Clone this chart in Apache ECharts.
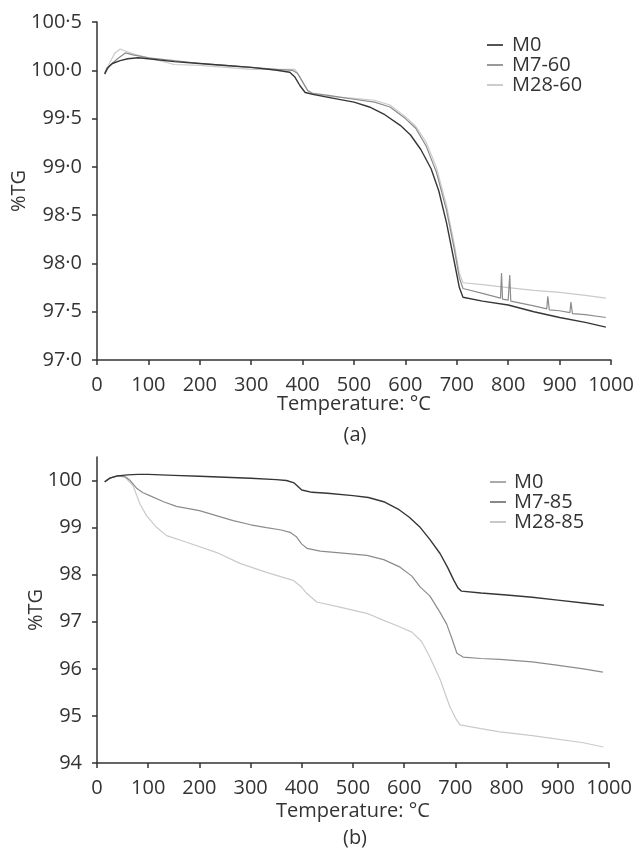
<!DOCTYPE html>
<html><head><meta charset="utf-8">
<script src="https://cdn.jsdelivr.net/npm/echarts@6/dist/echarts.min.js"></script>
<style>html,body{margin:0;padding:0;background:#fff}#c{width:637px;height:850px}</style>
</head><body><div id="c"></div>
<script>
// ---- Chart (a) data ----
const tA_M0 = [15,20,30,45,60,80,100,150,200,250,300,350,375,385,395,405,420,450,500,530,560,590,610,630,650,665,680,695,705,712,750,800,850,900,950,990];
const vA_M0 = [99.96,100.02,100.07,100.10,100.12,100.13,100.12,100.09,100.07,100.05,100.03,100.00,99.98,99.93,99.84,99.77,99.75,99.72,99.67,99.62,99.54,99.43,99.33,99.18,98.98,98.75,98.42,98.02,97.75,97.65,97.61,97.57,97.50,97.44,97.39,97.34];
const tA_M7 = [15,25,40,55,70,100,150,200,250,300,350,380,390,400,410,420,450,500,540,570,600,620,640,660,680,695,705,712,750,785,787,789,800,803,805,850,875,877,880,900,920,922,925,950,990];
const vA_M7 = [99.97,100.05,100.12,100.18,100.16,100.13,100.10,100.07,100.05,100.03,100.01,100.00,99.97,99.88,99.79,99.76,99.74,99.70,99.67,99.62,99.50,99.40,99.22,98.95,98.55,98.15,97.85,97.74,97.69,97.64,97.90,97.63,97.62,97.88,97.61,97.56,97.53,97.66,97.52,97.51,97.49,97.60,97.48,97.47,97.44];
const tA_M28 = [15,25,35,45,55,70,100,150,200,250,300,350,385,395,405,412,420,450,500,540,570,600,620,640,660,680,695,705,712,750,800,850,900,950,990];
const vA_M28 = [99.98,100.08,100.18,100.22,100.20,100.17,100.13,100.06,100.05,100.03,100.01,100.01,100.01,99.93,99.83,99.77,99.75,99.73,99.71,99.69,99.64,99.52,99.42,99.26,99.00,98.60,98.20,97.90,97.80,97.78,97.75,97.72,97.70,97.67,97.64];
// ---- Chart (b) data ----
const tB_M0 = [15,25,40,60,80,100,150,200,250,300,350,370,385,400,420,450,500,530,560,590,610,630,650,670,685,697,705,712,750,800,850,900,950,990];
const vB_M0 = [99.97,100.05,100.10,100.12,100.13,100.13,100.11,100.09,100.07,100.05,100.02,100.00,99.95,99.80,99.75,99.73,99.68,99.64,99.55,99.38,99.22,99.02,98.75,98.45,98.15,97.88,97.72,97.65,97.61,97.57,97.52,97.46,97.40,97.35];
const tB_M7 = [15,25,40,55,65,78,90,103,130,155,200,266,300,331,360,377,390,400,410,436,480,527,560,592,615,631,650,670,683,693,703,715,750,787,850,898,950,988];
const vB_M7 = [99.98,100.05,100.10,100.08,100.00,99.83,99.74,99.68,99.55,99.45,99.36,99.15,99.06,99.00,98.95,98.90,98.80,98.65,98.56,98.50,98.46,98.41,98.32,98.16,97.97,97.74,97.55,97.20,96.95,96.65,96.33,96.25,96.22,96.20,96.15,96.08,96.00,95.93];
const tB_M28 = [15,25,40,55,70,84,97,115,136,175,234,279,331,383,398,410,429,470,527,560,592,615,634,650,670,689,702,709,750,787,850,885,950,989];
const vB_M28 = [99.98,100.05,100.10,100.07,99.90,99.50,99.25,99.02,98.83,98.69,98.47,98.24,98.05,97.88,97.75,97.60,97.42,97.32,97.18,97.03,96.89,96.78,96.58,96.25,95.78,95.20,94.92,94.81,94.73,94.66,94.58,94.53,94.43,94.34];
const xTicks = [0,100,200,300,400,500,600,700,800,900,1000];
const yTicksA = [97,97.5,98,98.5,99,99.5,100,100.5];
const yTicksB = [94,95,96,97,98,99,100];
const namesA = ['M0','M7-60','M28-60'];
const namesB = ['M0','M7-85','M28-85'];

const FONT = 'Open Sans';
const FS = 20;
const TXT = '#333';
const cols = ['#363636','#8c8c8c','#cacaca'];
const zip = (t,v) => t.map((x,i)=>[x,v[i]]);
const fmtDot = v => v.toFixed(1).replace('.', '\u00B7');

function xAxis(gi){
  return {type:'value', gridIndex:gi, min:0, max:1000, interval:100,
    axisLine:{lineStyle:{color:TXT,width:1.5}}, axisTick:{show:true,length:5,lineStyle:{color:TXT,width:1.5},customValues:xTicks},
    axisLabel:{color:TXT,fontFamily:FONT,fontSize:FS,margin:15,customValues:xTicks,formatter:v=>String(v)}, splitLine:{show:false}};
}
const chart = echarts.init(document.getElementById('c'), null, {renderer:'canvas'});
const lineS = (name, data, gi, color, w) => ({type:'line', name, data, xAxisIndex:gi, yAxisIndex:gi,
  showSymbol:false, symbol:'none', lineStyle:{color, width:w}, itemStyle:{color}, z: 5, animation:false});
const ttl = (text, left, top) => ({text, left, top, textAlign:'center', padding:0,
  textStyle:{color:TXT,fontFamily:FONT,fontSize:FS,fontWeight:'normal'}});
const vName = (x, y) => ({type:'text', x, y, rotation:Math.PI/2,
  style:{text:'%TG', fill:TXT, font:FS+'px "'+FONT+'"', align:'center', verticalAlign:'middle'}});
chart.setOption({
  animation:false,
  textStyle:{fontFamily:FONT},
  grid:[{left:97,right:26,top:22,height:338,containLabel:false,outerBoundsMode:'none'},
        {left:97,right:28,top:457,height:306,containLabel:false,outerBoundsMode:'none'}],
  xAxis:[xAxis(0), xAxis(1)],
  yAxis:[
    {type:'value', gridIndex:0, min:97, max:100.5, interval:0.5,
     axisLine:{show:true,lineStyle:{color:TXT,width:1.5}}, axisTick:{show:true,length:5,lineStyle:{color:TXT,width:1.5},customValues:yTicksA},
     axisLabel:{color:TXT,fontFamily:FONT,fontSize:FS,margin:15,formatter:fmtDot,customValues:yTicksA}, splitLine:{show:false}},
    {type:'value', gridIndex:1, min:94, max:100.5,
     axisLine:{show:true,lineStyle:{color:TXT,width:1.5}}, axisTick:{show:true,length:5,lineStyle:{color:TXT,width:1.5},customValues:yTicksB},
     axisLabel:{color:TXT,fontFamily:FONT,fontSize:FS,margin:15,customValues:yTicksB}, splitLine:{show:false}}
  ],
  graphic:[vName(19,191), vName(36,610)],
  legend:[
    {data:[{name:'M0',itemStyle:{color:'#555'}},{name:'M7-60',itemStyle:{color:'#999'}},{name:'M28-60',itemStyle:{color:'#ccc'}}],
     orient:'vertical', left:482, top:30, icon:'rect', itemWidth:16, itemHeight:2, itemGap:0,
     textStyle:{color:TXT,fontFamily:FONT,fontSize:FS,lineHeight:19.3,padding:[0,0,0,4]}},
    {data:[{name:'M0',itemStyle:{color:'#aaa'}},{name:'M7-85',itemStyle:{color:'#888'}},{name:'M28-85',itemStyle:{color:'#c8c8c8'}}],
     orient:'vertical', left:485, top:467, icon:'rect', itemWidth:16, itemHeight:2, itemGap:0,
     textStyle:{color:TXT,fontFamily:FONT,fontSize:FS,lineHeight:19.5,padding:[0,0,0,3]}}
  ],
  title:[
    ttl('Temperature: °C', 354, 394),
    ttl('(a)', 355, 425),
    ttl('Temperature: °C', 353, 801),
    ttl('(b)', 355, 828)
  ],
  series:[
    lineS('M28-60', zip(tA_M28,vA_M28), 0, cols[2], 1.2),
    lineS('M7-60', zip(tA_M7,vA_M7), 0, cols[1], 1.2),
    lineS('M0', zip(tA_M0,vA_M0), 0, cols[0], 1.4),
    lineS('M28-85', zip(tB_M28,vB_M28), 1, cols[2], 1.2),
    lineS('M7-85', zip(tB_M7,vB_M7), 1, cols[1], 1.2),
    lineS('M0', zip(tB_M0,vB_M0), 1, cols[0], 1.4)
  ]
});
</script></body></html>
